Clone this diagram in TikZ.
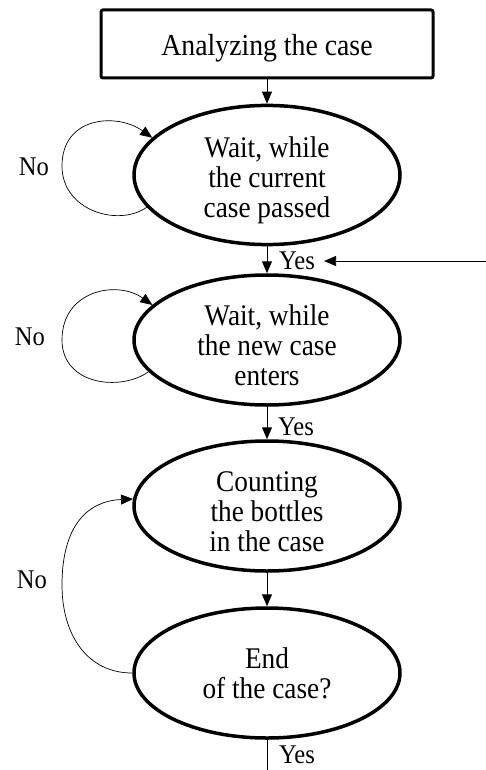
\documentclass[tikz,border=0pt]{standalone}
\usepackage{fontspec}
\setmainfont{Liberation Serif}
\newfontfamily\diafont[FakeStretch=0.91]{Liberation Serif}
\newcommand\topstrut[1]{\rule{0pt}{#1}}
\usetikzlibrary{arrows.meta,shapes.geometric}
\begin{document}
\begin{tikzpicture}[x=1pt,y=-1pt,
  stepell/.style={ellipse, draw, line width=3.5pt, minimum width=266pt, minimum height=130pt, inner sep=0pt, align=center, font=\diafont\fontsize{30}{30}\selectfont},
  boxnode/.style={draw, line width=3pt, rounded corners=2pt, minimum width=332pt, minimum height=68pt, inner sep=0pt, font=\diafont\fontsize{30.5}{30}\selectfont},
  lbl/.style={font=\diafont\fontsize{27}{28}\selectfont, inner sep=0pt},
  arr/.style={-{Triangle[length=12pt,width=10pt]}, line width=1pt},
  loopar/.style={-{Triangle[length=12pt,width=10pt]}, line width=0.7pt}]
\useasboundingbox (0,0) rectangle (486,770);
\node[boxnode] (box) at (267,44) {\topstrut{30pt}Analyzing the case};
\node[stepell] (e1) at (267,175) {\topstrut{32pt}Wait, while\\the current\\case passed};
\node[stepell] (e2) at (267,340) {\topstrut{31pt}Wait, while\\the new case\\enters};
\node[stepell] (e3) at (267,506) {\topstrut{31pt}Counting\\the bottles\\in the case};
\node[stepell] (e4) at (267,673) {End\\of the case?};

\draw[arr] (box) -- (e1);
\draw[arr] (e1) -- (e2);
\draw[arr] (e2) -- (e3);
\draw[arr] (e3) -- (e4);
\coordinate (end) at (267,770);
\draw[line width=1pt] (e4) -- (end);

\node[lbl] (y1) at (297,261) {Yes};
\node[lbl] (y2) at (296,427) {Yes};
\node[lbl] (y3) at (297,755) {Yes};
\node[lbl] (n1) at (34,167) {No};
\node[lbl] (n2) at (30,337) {No};
\node[lbl] (n3) at (32,580) {No};

\coordinate (src) at (486,261);
\draw[arr, line width=0.8pt, shorten >=9pt] (src) -- (y1.east);

\coordinate (l1) at (62,166);
\draw[loopar] (e1.195) .. controls +(-28,20) and +(0,45) .. (l1) .. controls +(0,-50) and +(-35,-25) .. (e1.162);
\coordinate (l2) at (62,340);
\draw[loopar] (e2.195) .. controls +(-28,20) and +(0,45) .. (l2) .. controls +(0,-50) and +(-35,-25) .. (e2.163);
\coordinate (l3) at (62,585);
\draw[loopar] (e4.west) .. controls +(-45,0) and +(0,50) .. (l3) .. controls +(0,-60) and +(-45,2) .. (e3.177);
\end{tikzpicture}
\end{document}
